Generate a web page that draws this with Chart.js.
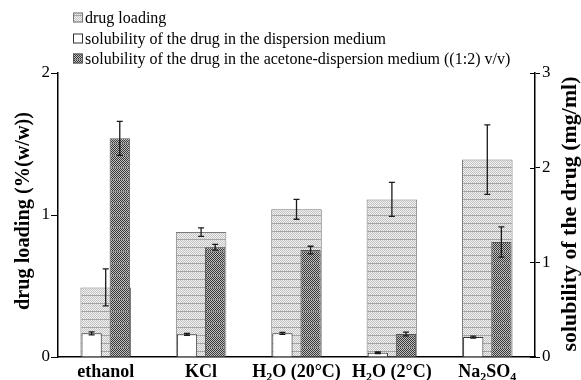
<!DOCTYPE html>
<html>
<head>
<meta charset="utf-8">
<script src="https://cdn.jsdelivr.net/npm/chart.js@4.4.0/dist/chart.umd.min.js"></script>
<style>
  html, body { margin: 0; padding: 0; background: #fff; }
  #wrap { width: 581px; height: 380px; position: relative; }
</style>
</head>
<body>
<div id="wrap"><canvas id="c" width="581" height="380"></canvas></div>
<script>
// ---- data ----
const categories = ['ethanol', 'KCl', 'H\u2082O (20\u00B0C)', 'H\u2082O (2\u00B0C)', 'Na\u2082SO\u2084'];
const drugLoading = [0.49, 0.88, 1.04, 1.11, 1.39];          // %(w/w), left axis
const drugLoadingErr = [0.13, 0.03, 0.07, 0.12, 0.245];
const solMedium = [0.25, 0.24, 0.25, 0.045, 0.21];           // mg/ml, right axis
const solMediumErr = [0.016, 0.01, 0.01, 0.008, 0.01];
const solAcetone = [2.31, 1.16, 1.13, 0.243, 1.215];         // mg/ml, right axis
const solAcetoneErr = [0.18, 0.03, 0.04, 0.02, 0.16];
const leftTicks = [0, 1, 2];
const rightTicks = [0, 1, 2, 3];
const legendLabels = [
  'drug loading',
  'solubility of the drug in the dispersion medium',
  'solubility of the drug in the acetone-dispersion medium ((1:2) v/v)'
];
const leftTitle = 'drug loading (%(w/w))';
const rightTitle = 'solubility of the drug (mg/ml)';

// ---- patterns ----
function makePattern(w, h, drawFn) {
  const c = document.createElement('canvas');
  c.width = w; c.height = h;
  const g = c.getContext('2d');
  drawFn(g, w, h);
  return document.getElementById('c').getContext('2d').createPattern(c, 'repeat');
}
const lightPattern = makePattern(4, 8, (g, w, h) => {
  g.fillStyle = '#f2f2f2'; g.fillRect(0, 0, w, h);
  g.fillStyle = '#c2c2c2';
  for (let y = 0; y < h; y++) for (let x = 0; x < w; x++) if ((x + y) % 2 === 0) g.fillRect(x, y, 1, 1);
  g.fillStyle = '#a4a4a4'; g.fillRect(0, h - 1, w, 1);
});
const darkPattern = makePattern(4, 12, (g, w, h) => {
  g.fillStyle = '#c0c0c0'; g.fillRect(0, 0, w, h);
  g.fillStyle = '#383838';
  for (let y = 0; y < h; y++) for (let x = 0; x < w; x++) if ((x + y) % 2 === 0) g.fillRect(x, y, 1, 1);
  g.fillStyle = '#8a8a8a'; g.fillRect(0, h - 1, w, 1);
});

const SERIF = "'Liberation Serif', 'Times New Roman', serif";

// draw text with unicode subscript digits rendered as real subscripts
const SUBS = {'\u2080':'0','\u2081':'1','\u2082':'2','\u2083':'3','\u2084':'4','\u2085':'5','\u2086':'6','\u2087':'7','\u2088':'8','\u2089':'9'};
function runsOf(str) {
  const runs = [];
  for (const ch of str) {
    const sub = ch in SUBS;
    const t = sub ? SUBS[ch] : ch;
    if (runs.length && runs[runs.length - 1].sub === sub) runs[runs.length - 1].t += t;
    else runs.push({t, sub});
  }
  return runs;
}
function drawRich(ctx, str, cx, baseY, size) {
  const runs = runsOf(str);
  const fMain = 'bold ' + size + 'px ' + SERIF;
  const fSub = 'bold ' + Math.round(size * 0.65) + 'px ' + SERIF;
  let total = 0;
  for (const r of runs) { ctx.font = r.sub ? fSub : fMain; r.w = ctx.measureText(r.t).width; total += r.w; }
  let x = cx - total / 2;
  ctx.textAlign = 'left'; ctx.textBaseline = 'alphabetic'; ctx.fillStyle = '#000';
  for (const r of runs) {
    ctx.font = r.sub ? fSub : fMain;
    ctx.fillText(r.t, x, r.sub ? baseY + size * 0.22 : baseY);
    x += r.w;
  }
}

const customPlugin = {
  id: 'custom',
  afterDatasetsDraw(chart) {
    const ctx = chart.ctx;
    const errs = [drugLoadingErr, solMediumErr, solAcetoneErr];
    chart.data.datasets.forEach((ds, di) => {
      const meta = chart.getDatasetMeta(di);
      const ys = chart.scales[ds.yAxisID];
      const e = errs[di];
      meta.data.forEach((bar, i) => {
        const v = ds.data[i];
        const x = bar.x;
        const y1 = ys.getPixelForValue(v + e[i]);
        const y2 = ys.getPixelForValue(v - e[i]);
        ctx.save();
        ctx.strokeStyle = '#1a1a1a';
        ctx.lineWidth = 1.3;
        ctx.beginPath();
        ctx.moveTo(x, y1); ctx.lineTo(x, y2);
        ctx.moveTo(x - 3, y1); ctx.lineTo(x + 3, y1);
        ctx.moveTo(x - 3, y2); ctx.lineTo(x + 3, y2);
        ctx.stroke();
        ctx.restore();
      });
    });
  },
  afterDraw(chart) {
    const ctx = chart.ctx;
    const xs = chart.scales.x;
    const y2 = chart.scales.y2;
    ctx.save();
    // crossing ticks on right axis (inner half)
    ctx.strokeStyle = '#000'; ctx.lineWidth = 1;
    rightTicks.forEach(t => {
      const py = Math.round(y2.getPixelForValue(t)) + 0.5;
      ctx.beginPath(); ctx.moveTo(y2.left - 5, py); ctx.lineTo(y2.left, py); ctx.stroke();
    });
    // category labels
    categories.forEach((lab, i) => {
      drawRich(ctx, lab, xs.getPixelForValue(i), 377, 18);
    });
    // axis titles
    function vtitle(text, cx, cy, size, target) {
      ctx.save();
      ctx.font = 'bold ' + size + 'px ' + SERIF;
      const w = ctx.measureText(text).width;
      ctx.translate(cx, cy);
      ctx.rotate(-Math.PI / 2);
      ctx.scale(target / w, 1);
      ctx.textAlign = 'center'; ctx.textBaseline = 'middle'; ctx.fillStyle = '#000';
      ctx.fillText(text, 0, 0);
      ctx.restore();
    }
    vtitle(leftTitle, 24, 211, 21, 198);
    vtitle(rightTitle, 571, 214, 21, 275);
    // legend
    const fills = [lightPattern, '#ffffff', darkPattern];
    const borders = ['#777', '#333', '#555'];
    const rowsY = [17.5, 38.5, 58.5];
    ctx.font = '16px ' + SERIF;
    ctx.textAlign = 'left'; ctx.textBaseline = 'middle';
    legendLabels.forEach((lab, i) => {
      const y = rowsY[i];
      ctx.fillStyle = fills[i];
      ctx.fillRect(73, y - 5, 10, 10);
      ctx.strokeStyle = borders[i]; ctx.lineWidth = 1;
      ctx.strokeRect(73.5, y - 4.5, 9, 9);
      ctx.fillStyle = '#000';
      ctx.fillText(lab, 85, y + 1);
    });
    ctx.restore();
  }
};

new Chart(document.getElementById('c'), {
  type: 'bar',
  data: {
    labels: categories,
    datasets: [
      {
        label: legendLabels[0], data: drugLoading, yAxisID: 'y',
        backgroundColor: lightPattern, borderColor: '#7a7a7a', borderWidth: 1,
        grouped: false, barPercentage: 0.53, categoryPercentage: 1.0, order: 2
      },
      {
        label: legendLabels[1], data: solMedium, yAxisID: 'y2', stack: 'a',
        backgroundColor: '#ffffff', borderColor: '#333333', borderWidth: 1,
        barPercentage: 0.72, categoryPercentage: 0.59, order: 1
      },
      {
        label: legendLabels[2], data: solAcetone, yAxisID: 'y2', stack: 'b',
        backgroundColor: darkPattern, borderColor: '#555555', borderWidth: 1,
        barPercentage: 0.72, categoryPercentage: 0.59, order: 1
      }
    ]
  },
  options: {
    responsive: false,
    animation: false,
    layout: { padding: { top: 73, left: 0, right: 0, bottom: 0 } },
    plugins: { legend: { display: false }, tooltip: { enabled: false } },
    scales: {
      x: {
        grid: { display: false },
        border: { display: true, color: '#000', width: 1.5 },
        ticks: { display: false },
        afterFit(s) { s.height = 23; }
      },
      y: {
        position: 'left', min: 0, max: 2,
        afterBuildTicks(s) { s.ticks = leftTicks.map(v => ({value: v})); },
        grid: { drawOnChartArea: false, drawTicks: true, tickLength: 7, color: '#000' },
        border: { display: true, color: '#000', width: 1.5 },
        ticks: { color: '#000', font: { family: SERIF, size: 17 }, padding: 1 },
        afterFit(s) { s.width = 58; }
      },
      y2: {
        position: 'right', min: 0, max: 3,
        afterBuildTicks(s) { s.ticks = rightTicks.map(v => ({value: v})); },
        grid: { drawOnChartArea: false, drawTicks: true, tickLength: 5, color: '#000' },
        border: { display: true, color: '#000', width: 1.5 },
        ticks: { color: '#000', font: { family: SERIF, size: 17 }, padding: 2 },
        afterFit(s) { s.width = 46; }
      }
    }
  },
  plugins: [customPlugin]
});
</script>
</body>
</html>
